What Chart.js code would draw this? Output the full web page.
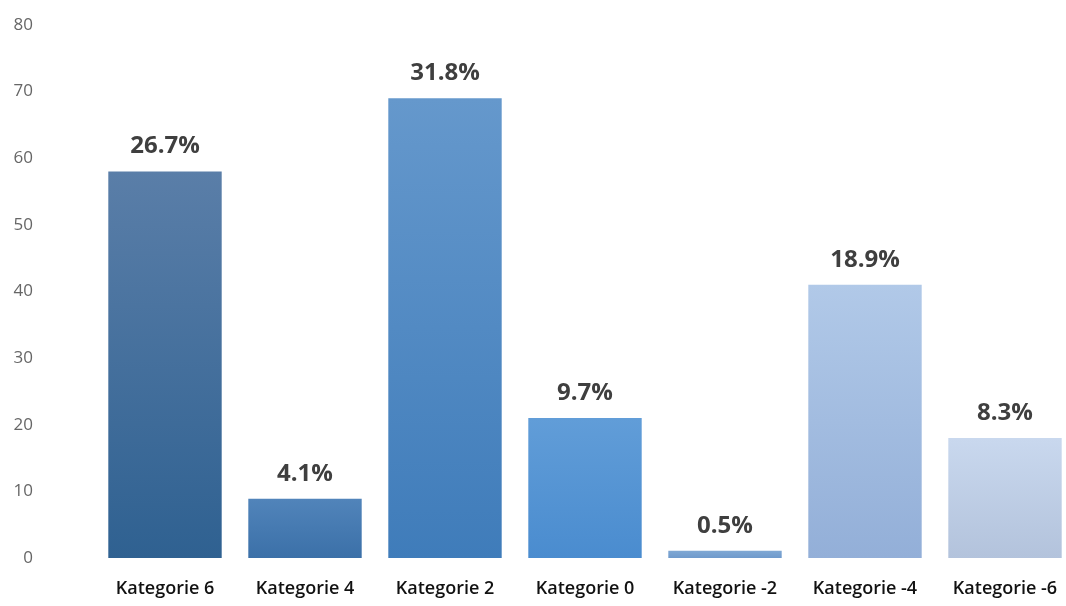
<!DOCTYPE html>
<html>
<head>
<meta charset="utf-8">
<script src="https://cdn.jsdelivr.net/npm/chart.js@4"></script>
<style>
  html, body { margin: 0; padding: 0; background: #fff; overflow: hidden; }
  #wrap { width: 1080px; height: 606px; }
</style>
</head>
<body>
<div id="wrap"><canvas id="Chart"></canvas></div>
<script>
// chart data
var categories = ["Kategorie 6", "Kategorie 4", "Kategorie 2", "Kategorie 0", "Kategorie -2", "Kategorie -4", "Kategorie -6"];
var values = [58, 8.9, 69, 21, 1.1, 41, 18];
var percentLabels = ["26.7%", "4.1%", "31.8%", "9.7%", "0.5%", "18.9%", "8.3%"];
var topColors = ["#5a7ea8", "#5184ba", "#6598cc", "#619dd8", "#80a8d4", "#b1c9e8", "#c9d8ee"];
var bottomColors = ["#2f6191", "#3b70a8", "#3f7cba", "#4a8ccf", "#6f9acc", "#93afd8", "#b3c3dc"];

// per-bar vertical gradient
function barColor(context) {
    var chart = context.chart;
    if (!chart.chartArea) return topColors[context.dataIndex];
    var y = chart.scales.y;
    var top = y.getPixelForValue(values[context.dataIndex]);
    var base = y.getPixelForValue(0);
    if (base - top < 1) return topColors[context.dataIndex];
    var g = chart.ctx.createLinearGradient(0, top, 0, base);
    g.addColorStop(0, topColors[context.dataIndex]);
    g.addColorStop(1, bottomColors[context.dataIndex]);
    return g;
}

// draws percentage text above each bar
var percentPlugin = {
    id: 'percentPlugin',
    afterDatasetsDraw: function(chart) {
        var ctx = chart.ctx;
        var meta = chart.getDatasetMeta(0);
        ctx.save();
        ctx.font = "bold 24px 'Open Sans'";
        ctx.fillStyle = "#3f3f3f";
        ctx.textAlign = "center";
        ctx.textBaseline = "middle";
        meta.data.forEach(function(bar, i) {
            ctx.fillText(percentLabels[i], bar.x, bar.y - 25);
        });
        ctx.restore();
    }
};

var ctx = document.getElementById("Chart").getContext('2d');
var myChart = new Chart(ctx, {
    type: 'bar',
    data: {
        labels: categories,
        datasets: [{
            data: values,
            backgroundColor: barColor,
            borderWidth: 0,
            barPercentage: 0.81,
            categoryPercentage: 1
        }]
    },
    options: {
        responsive: true,
        maintainAspectRatio: false,
        animation: false,
        layout: { padding: { top: 25, right: 5, bottom: 5, left: 0 } },
        plugins: {
            legend: { display: false },
            tooltip: { enabled: false }
        },
        scales: {
            x: {
                grid: { display: false, drawTicks: false },
                border: { display: false },
                ticks: {
                    padding: 20,
                    color: "#111111",
                    font: { family: "'Open Sans'", size: 18, weight: '600' },
                    maxRotation: 0,
                    autoSkip: false
                },
                afterFit: function(scale) { scale.height = 43; }
            },
            y: {
                min: 0,
                max: 80,
                grid: { display: false, drawTicks: false },
                border: { display: false },
                ticks: {
                    stepSize: 10,
                    padding: 62,
                    color: "#666666",
                    font: { family: "'Open Sans'", size: 17 }
                },
                afterFit: function(scale) {
                    // fixed axis width, and don't let the tick padding push the plot area
                    scale.width = 95;
                    scale.paddingTop = 9;
                    scale.paddingBottom = 9;
                }
            }
        }
    },
    plugins: [percentPlugin]
});
</script>
</body>
</html>
